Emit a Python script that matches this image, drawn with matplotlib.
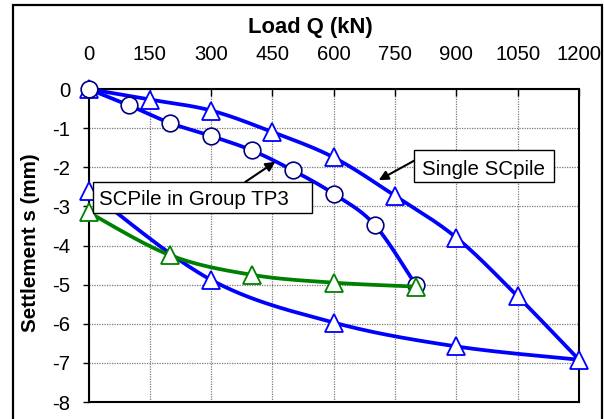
import numpy as np
import matplotlib
matplotlib.use("Agg")
import matplotlib.pyplot as plt
from matplotlib.patches import Rectangle

plt.rcParams['font.family'] = ['Liberation Sans', 'DejaVu Sans']

# ---- data ----
single_load = [0, 150, 300, 450, 600, 750, 900, 1050, 1200, 900, 600, 300, 0]
single_settle = [0, -0.27, -0.55, -1.1, -1.75, -2.73, -3.8, -5.3, -6.92, -6.58, -5.97, -4.88, -2.6]
single_peak_index = 8  # loading branch ends / unloading branch starts here

group_load = [0, 100, 200, 300, 400, 500, 600, 700, 800]
group_settle = [0, -0.42, -0.87, -1.2, -1.57, -2.08, -2.68, -3.47, -5.0]

green_load = [0, 200, 400, 600, 800]
green_settle = [-3.15, -4.25, -4.75, -4.95, -5.05]

x_ticks = [0, 150, 300, 450, 600, 750, 900, 1050, 1200]
y_ticks = [0, -1, -2, -3, -4, -5, -6, -7, -8]


def smooth(xs, ys, n=30):
    """Smoothed line (Bezier through the points, Catmull-Rom tangents)."""
    p = np.column_stack([xs, ys]).astype(float)
    m = len(p)
    out = [p[0]]
    t = np.linspace(0, 1, n)[1:, None]
    for i in range(m - 1):
        p0 = p[i - 1] if i > 0 else p[i]
        p1 = p[i]
        p2 = p[i + 1]
        p3 = p[i + 2] if i + 2 < m else p[i + 1]
        c1 = p1 + (p2 - p0) / 6.0
        c2 = p2 - (p3 - p1) / 6.0
        seg = ((1 - t) ** 3) * p1 + 3 * ((1 - t) ** 2) * t * c1 + 3 * (1 - t) * t ** 2 * c2 + t ** 3 * p2
        out.extend(seg)
    out = np.array(out)
    return out[:, 0], out[:, 1]


W, H = 604, 419
fig = plt.figure(figsize=(W / 100, H / 100), dpi=100)
fig.patch.set_facecolor('white')

# outer chart frame
fig.patches.append(Rectangle((13 / W, -0.02), (602 - 13) / W, 1.02 - 5 / H,
                             transform=fig.transFigure, fill=False,
                             edgecolor='black', linewidth=1.6, zorder=0))

ax = fig.add_axes([88.5 / W, 1 - 402 / H, (579 - 88.5) / W, (402 - 89) / H])
ax.set_xlim(0, 1200)
ax.set_ylim(-8, 0)

blue = '#0000FF'
navy = '#000080'
green = '#008000'
LW = 2.7

k = single_peak_index
ax1x, ax1y = smooth(single_load[:k + 1], single_settle[:k + 1])
ax2x, ax2y = smooth(single_load[k:], single_settle[k:])
ax.plot(np.r_[ax1x, ax2x], np.r_[ax1y, ax2y], color=blue, lw=LW, zorder=3,
        solid_joinstyle='miter')
ax.plot(single_load, single_settle, ls='none', marker='^', ms=12.5,
        mfc='white', mec=blue, mew=1.3, zorder=4, clip_on=False)

gx, gy = smooth(group_load, group_settle)
ax.plot(gx, gy, color=blue, lw=LW, zorder=5)
ax.plot(group_load, group_settle, ls='none', marker='o', ms=12,
        mfc='white', mec=navy, mew=1.2, zorder=6, clip_on=False)

hx, hy = smooth(green_load, green_settle)
ax.plot(hx, hy, color=green, lw=LW, zorder=7)
ax.plot(green_load, green_settle, ls='none', marker='^', ms=12.5,
        mfc='white', mec=green, mew=1.3, zorder=8, clip_on=False)

# axes styling
ax.set_xticks(x_ticks)
ax.set_yticks(y_ticks)
ax.set_xticklabels([str(v) for v in x_ticks])
ax.set_yticklabels([str(v) for v in y_ticks])
ax.xaxis.tick_top()
ax.tick_params(axis='x', which='both', top=True, bottom=False, direction='in',
               length=5, width=1, labelsize=14.6, pad=18, colors='black')
ax.tick_params(axis='y', which='both', left=True, right=False, direction='out',
               length=4.3, width=1, labelsize=14.6, pad=8.6, colors='black')
ax.grid(True, color='#7a7a7a', linestyle=(0, (1, 1)), linewidth=0.9, zorder=1)
ax.set_axisbelow(True)
for s in ax.spines.values():
    s.set_color('black')
    s.set_linewidth(1.5)
    s.set_zorder(2)

# axis titles
fig.text(310 / W, 1 - 33 / H, 'Load Q (kN)', ha='center', va='baseline',
         fontsize=15.8, fontweight='bold')
fig.text(31 / W, 1 - 243 / H, 'Settlement s (mm)', ha='center', va='center',
         rotation=90, fontsize=14.9, fontweight='bold')

# callout boxes
def callout(x0, x1, y0, y1, tx, ty, text, start, tip):
    ax.add_patch(Rectangle((x0, y1), x1 - x0, y0 - y1, facecolor='white',
                           edgecolor='black', linewidth=1.0, zorder=10, clip_on=False))
    ax.text(tx, ty, text, fontsize=14.8, ha='left', va='baseline', zorder=11)
    ax.annotate('', xy=tip, xytext=start,
                arrowprops=dict(arrowstyle='-|>', color='black', lw=1.5,
                                mutation_scale=14, shrinkA=0, shrinkB=0),
                zorder=9)

callout(11, 547, -2.38, -3.17, 26.5, -2.97, 'SCPile in Group TP3',
        (383, -2.38), (457, -1.86))
callout(797, 1138, -1.56, -2.38, 815, -2.20, 'Single SCpile',
        (797, -1.83), (710, -2.33))

fig.savefig('out.png', dpi=100)
